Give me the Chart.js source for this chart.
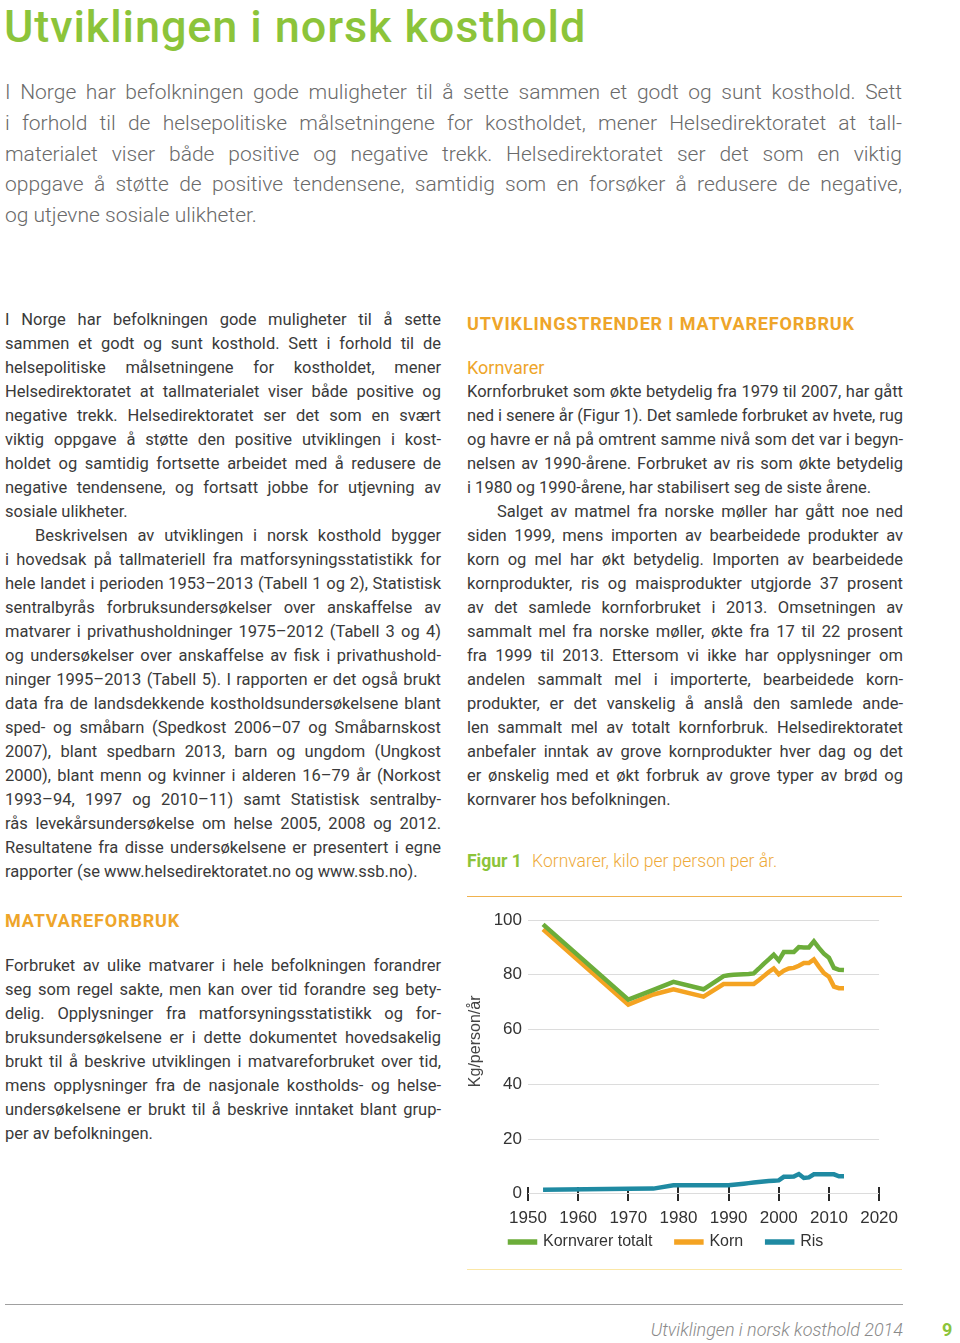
<!DOCTYPE html>
<html lang="no">
<head>
<meta charset="utf-8">
<title>Utviklingen i norsk kosthold</title>
<script src="https://cdn.jsdelivr.net/npm/chart.js@4.4.1/dist/chart.umd.min.js"></script>
<style>
  html, body { margin: 0; padding: 0; background: #fff; }
  body { width: 960px; height: 1343px; position: relative; overflow: hidden;
         font-family: Roboto, "Noto Sans", sans-serif; color: #3a3a3a; }
  .abs { position: absolute; }
  .title { left: 4px; top: 0; font-size: 45px; line-height: normal; font-weight: 500;
           color: #8cc43a; letter-spacing: 0.9px; white-space: nowrap; }
  .intro { left: 5px; top: 77px; width: 897px; font-size: 21px; line-height: 30.8px;
           font-weight: 300; color: #6a6a6a; }
  .col { font-size: 16.5px; line-height: 24px; }
  .left { left: 5px; width: 436px; }
  .right { left: 467px; width: 436px; }
  .ln { text-align: justify; text-align-last: justify; }
  .ln.end { text-align-last: left; }
  .ind { text-indent: 30px; }
  .head { font-size: 18px; font-weight: 700; color: #eea52a; letter-spacing: 0.85px; line-height: 24px; }
  .sub { font-size: 18px; color: #eea52a; line-height: 24px; }
  .fig { font-size: 17.5px; line-height: 24px; color: #eeaa3a; font-weight: 300; }
  .fig b { color: #8cc43a; font-weight: 700; margin-right: 6px; }
  #chartbox { left: 462px; top: 900px; width: 443px; height: 360px; }
  .foot { right: 57px; top: 1318px; font-size: 18px; font-style: italic; font-weight: 300; color: #8a8a8a; line-height: 24px; }
  .pnum { left: 942px; top: 1318px; font-size: 18px; font-weight: 700; color: #8cc43a; line-height: 24px; }
</style>
</head>
<body>

<div class="abs title">Utviklingen i norsk kosthold</div>

<div class="abs intro">
  <div class="ln">I Norge har befolkningen gode muligheter til å sette sammen et godt og sunt kosthold. Sett</div>
  <div class="ln">i forhold til de helsepolitiske målsetningene for kostholdet, mener Helsedirektoratet at tall-</div>
  <div class="ln">materialet viser både positive og negative trekk. Helsedirektoratet ser det som en viktig</div>
  <div class="ln">oppgave å støtte de positive tendensene, samtidig som en forsøker å redusere de negative,</div>
  <div class="ln end">og utjevne sosiale ulikheter.</div>
</div>

<div class="abs col left" style="top:308px">
  <div class="ln">I Norge har befolkningen gode muligheter til å sette</div>
  <div class="ln">sammen et godt og sunt kosthold. Sett i forhold til de</div>
  <div class="ln">helsepolitiske målsetningene for kostholdet, mener</div>
  <div class="ln">Helsedirektoratet at tallmaterialet viser både positive og</div>
  <div class="ln">negative trekk. Helsedirektoratet ser det som en svært</div>
  <div class="ln">viktig oppgave å støtte den positive utviklingen i kost-</div>
  <div class="ln">holdet og samtidig fortsette arbeidet med å redusere de</div>
  <div class="ln">negative tendensene, og fortsatt jobbe for utjevning av</div>
  <div class="ln end">sosiale ulikheter.</div>
  <div class="ln ind">Beskrivelsen av utviklingen i norsk kosthold bygger</div>
  <div class="ln">i hovedsak på tallmateriell fra matforsyningsstatistikk for</div>
  <div class="ln">hele landet i perioden 1953–2013 (Tabell 1 og 2), Statistisk</div>
  <div class="ln">sentralbyrås forbruksundersøkelser over anskaffelse av</div>
  <div class="ln">matvarer i privathusholdninger 1975–2012 (Tabell 3 og 4)</div>
  <div class="ln">og undersøkelser over anskaffelse av fisk i privathushold-</div>
  <div class="ln">ninger 1995–2013 (Tabell 5). I rapporten er det også brukt</div>
  <div class="ln">data fra de landsdekkende kostholdsundersøkelsene blant</div>
  <div class="ln">sped- og småbarn (Spedkost 2006–07 og Småbarnskost</div>
  <div class="ln">2007), blant spedbarn 2013, barn og ungdom (Ungkost</div>
  <div class="ln">2000), blant menn og kvinner i alderen 16–79 år (Norkost</div>
  <div class="ln">1993–94, 1997 og 2010–11) samt Statistisk sentralby-</div>
  <div class="ln">rås levekårsundersøkelse om helse 2005, 2008 og 2012.</div>
  <div class="ln">Resultatene fra disse undersøkelsene er presentert i egne</div>
  <div class="ln end">rapporter (se www.helsedirektoratet.no og www.ssb.no).</div>
</div>

<div class="abs head" style="left:5px;top:909px">MATVAREFORBRUK</div>

<div class="abs col left" style="top:954px">
  <div class="ln">Forbruket av ulike matvarer i hele befolkningen forandrer</div>
  <div class="ln">seg som regel sakte, men kan over tid forandre seg bety-</div>
  <div class="ln">delig. Opplysninger fra matforsyningsstatistikk og for-</div>
  <div class="ln">bruksundersøkelsene er i dette dokumentet hovedsakelig</div>
  <div class="ln">brukt til å beskrive utviklingen i matvareforbruket over tid,</div>
  <div class="ln">mens opplysninger fra de nasjonale kostholds- og helse-</div>
  <div class="ln">undersøkelsene er brukt til å beskrive inntaket blant grup-</div>
  <div class="ln end">per av befolkningen.</div>
</div>

<div class="abs head" style="left:467px;top:312px">UTVIKLINGSTRENDER I MATVAREFORBRUK</div>
<div class="abs sub" style="left:467px;top:356px">Kornvarer</div>

<div class="abs col right" style="top:380px">
  <div class="ln">Kornforbruket som økte betydelig fra 1979 til 2007, har gått</div>
  <div class="ln">ned i senere år (Figur 1). Det samlede forbruket av hvete, rug</div>
  <div class="ln">og havre er nå på omtrent samme nivå som det var i begyn-</div>
  <div class="ln">nelsen av 1990-årene. Forbruket av ris som økte betydelig</div>
  <div class="ln end">i 1980 og 1990-årene, har stabilisert seg de siste årene.</div>
  <div class="ln ind">Salget av matmel fra norske møller har gått noe ned</div>
  <div class="ln">siden 1999, mens importen av bearbeidede produkter av</div>
  <div class="ln">korn og mel har økt betydelig. Importen av bearbeidede</div>
  <div class="ln">kornprodukter, ris og maisprodukter utgjorde 37 prosent</div>
  <div class="ln">av det samlede kornforbruket i 2013. Omsetningen av</div>
  <div class="ln">sammalt mel fra norske møller, økte fra 17 til 22 prosent</div>
  <div class="ln">fra 1999 til 2013. Ettersom vi ikke har opplysninger om</div>
  <div class="ln">andelen sammalt mel i importerte, bearbeidede korn-</div>
  <div class="ln">produkter, er det vanskelig å anslå den samlede ande-</div>
  <div class="ln">len sammalt mel av totalt kornforbruk. Helsedirektoratet</div>
  <div class="ln">anbefaler inntak av grove kornprodukter hver dag og det</div>
  <div class="ln">er ønskelig med et økt forbruk av grove typer av brød og</div>
  <div class="ln end">kornvarer hos befolkningen.</div>
</div>

<div class="abs fig" style="left:467px;top:849px"><b>Figur 1</b> Kornvarer, kilo per person per år.</div>

<div class="abs" style="left:467px;top:896px;width:435px;border-top:1.5px solid #f0b24e"></div>
<div class="abs" id="chartbox"><canvas id="chart"></canvas></div>
<div class="abs" style="left:467px;top:1269px;width:435px;border-top:1.5px solid #fbe7a6"></div>

<div class="abs" style="left:5px;top:1304px;width:898px;border-top:1px solid #a0a0a0"></div>
<div class="abs foot">Utviklingen i norsk kosthold 2014</div>
<div class="abs pnum">9</div>

<script>
// squeeze each typeset line until it sits on one line
document.querySelectorAll('.ln').forEach(function(el) {
    const lh = parseFloat(getComputedStyle(el).lineHeight);
    let ls = 0;
    while (el.getBoundingClientRect().height > lh * 1.5 && ls > -2) {
        ls -= 0.05;
        el.style.letterSpacing = ls.toFixed(2) + 'px';
    }
});

// Figur 1 – kornvarer, kilo per person per år
const years = [1953, 1970, 1975, 1979, 1985, 1989, 1990, 1991, 1992, 1993,
               1994, 1995, 1996, 1997, 1998, 1999, 2000, 2001, 2002, 2003,
               2004, 2005, 2006, 2007, 2008, 2009, 2010, 2011, 2012, 2013];
const kornvarerTotalt = [98.4, 70.9, 74.5, 77.4, 74.7, 79.5, 79.8, 80.0, 80.1, 80.2,
                         80.3, 80.5, 82.2, 84.0, 85.6, 87.3, 85.2, 88.3, 88.3, 88.3,
                         90.1, 90.0, 90.0, 92.2, 89.8, 87.7, 86.2, 82.5, 81.8, 81.7];
const korn = [96.6, 69.1, 72.8, 74.7, 72.0, 76.6, 76.6, 76.6, 76.6, 76.6,
              76.6, 76.6, 78.0, 79.5, 81.0, 82.3, 80.2, 81.5, 82.3, 82.5,
              83.3, 84.3, 84.3, 85.6, 83.0, 80.6, 79.3, 75.7, 75.1, 75.1];
const ris = [1.5, 1.8, 1.9, 3.1, 3.1, 3.1, 3.1, 3.3, 3.5, 3.7,
             3.9, 4.1, 4.3, 4.5, 4.7, 4.8, 4.9, 6.2, 6.2, 6.3,
             7.2, 5.8, 6.0, 7.1, 7.1, 7.1, 7.1, 7.1, 6.4, 6.4];
const seriesNames = ['Kornvarer totalt', 'Korn', 'Ris'];
const xTicks = [1950, 1960, 1970, 1980, 1990, 2000, 2010, 2020];
const yTicks = [0, 20, 40, 60, 80, 100];
const yTitle = 'Kg/person/år';

const colors = ['#6cad3a', '#f4a322', '#1f8aa2'];
const series = [kornvarerTotalt, korn, ris];

const datasets = series.map(function(vals, i) {
    return {
        label: seriesNames[i],
        data: vals.map(function(v, j) { return {x: years[j], y: v}; }),
        borderColor: colors[i],
        backgroundColor: colors[i],
        borderWidth: 4.5,
        pointRadius: 0,
        tension: 0,
        fill: false
    };
});

const myChart = new Chart(document.getElementById('chart'), {
    type: 'line',
    data: {datasets: datasets},
    options: {
        responsive: true,
        maintainAspectRatio: false,
        animation: false,
        layout: {padding: {left: 24, right: 23, top: 20, bottom: 0}},
        scales: {
            x: {
                type: 'linear',
                min: 1950,
                max: 2020,
                position: {y: 2.6},
                afterBuildTicks: function(s) { s.ticks = xTicks.map(function(v) { return {value: v}; }); },
                afterFit: function(s) { s.height = 0; },
                grid: {drawOnChartArea: false, drawTicks: true, tickLength: 14, color: '#2a2a2a', lineWidth: 2},
                border: {display: false},
                ticks: {padding: 7, color: '#333', font: {size: 17}, maxRotation: 0,
                        callback: function(v) { return String(v); }}
            },
            y: {
                min: 0,
                max: 100,
                afterBuildTicks: function(s) { s.ticks = yTicks.map(function(v) { return {value: v}; }); },
                afterFit: function(s) { s.width = 42; },
                grid: {drawTicks: false, color: '#dcdcdc'},
                border: {display: false},
                ticks: {padding: 6, color: '#333', font: {size: 17},
                        callback: function(v) { return String(v); }},
                // leading spaces nudge the rotated title up a little
                title: {display: true, text: '       ' + yTitle, color: '#444', font: {size: 16},
                        padding: {top: -19.6, bottom: 0}}
            }
        },
        plugins: {
            legend: {
                position: 'bottom',
                align: 'start',
                title: {display: true, text: '', font: {size: 1}, padding: {top: 15, bottom: 0}},
                labels: {boxWidth: 25, boxHeight: 1, padding: 24, color: '#333', font: {size: 16}}
            },
            tooltip: {enabled: false}
        }
    }
});
</script>
</body>
</html>
